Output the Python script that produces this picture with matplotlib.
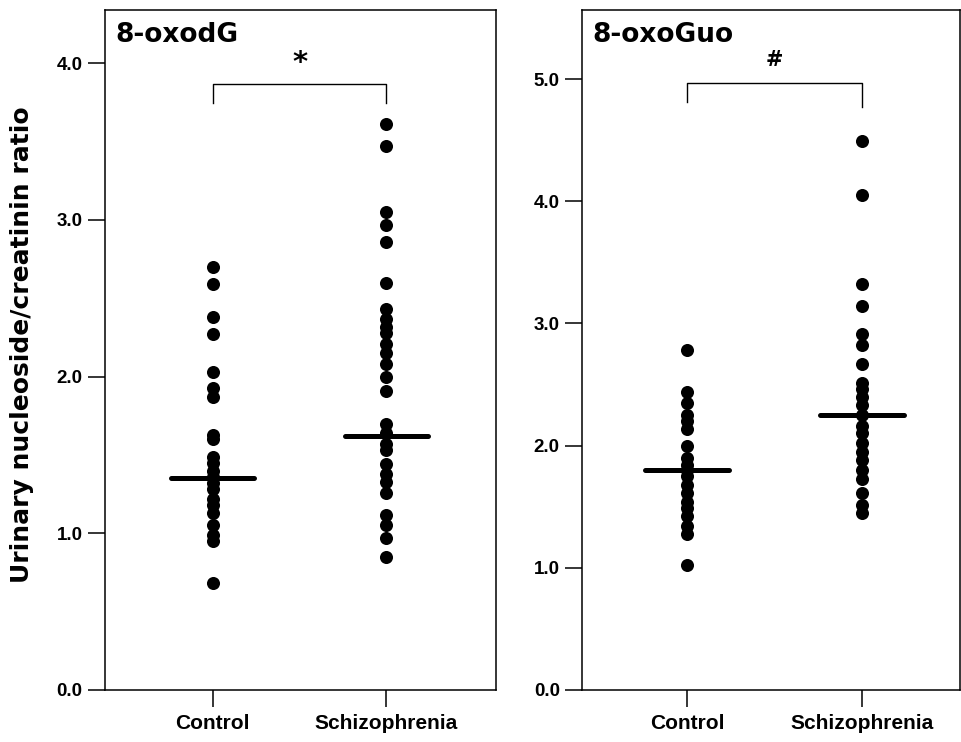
import matplotlib
matplotlib.use("Agg")
import matplotlib.pyplot as plt

# Values (nucleoside/creatinin ratio per subject)
groups = ["Control", "Schizophrenia"]

oxodg_control = [2.70, 2.59, 2.38, 2.27, 2.03, 1.93, 1.87, 1.63, 1.60, 1.49,
                 1.45, 1.40, 1.36, 1.32, 1.28, 1.22, 1.18, 1.13, 1.05, 0.99,
                 0.95, 0.68]
oxodg_schizo = [3.61, 3.47, 3.05, 2.97, 2.86, 2.60, 2.43, 2.37, 2.32, 2.28,
                2.21, 2.15, 2.08, 2.00, 1.91, 1.70, 1.64, 1.57, 1.53, 1.44,
                1.38, 1.33, 1.26, 1.12, 1.05, 0.97, 0.85]
oxodg_medians = [1.35, 1.62]

oxoguo_control = [2.78, 2.44, 2.35, 2.25, 2.20, 2.14, 2.00, 1.90, 1.84, 1.80,
                  1.75, 1.68, 1.61, 1.54, 1.49, 1.42, 1.34, 1.28, 1.02]
oxoguo_schizo = [4.49, 4.05, 3.32, 3.14, 2.91, 2.82, 2.67, 2.51, 2.46, 2.40,
                 2.33, 2.25, 2.16, 2.10, 2.02, 1.95, 1.88, 1.80, 1.73, 1.61,
                 1.51, 1.45]
oxoguo_medians = [1.80, 2.25]

panel_titles = ["8-oxodG", "8-oxoGuo"]
panel_marks = ["*", "#"]
panel_ylims = [4.34, 5.565]
panel_yticks = [[0.0, 1.0, 2.0, 3.0, 4.0], [0.0, 1.0, 2.0, 3.0, 4.0, 5.0]]
panel_xlims = [(0.38, 2.63), (0.40, 2.56)]
# bracket: top, left leg end, right leg end, mark height
panel_brackets = [(3.866, 3.745, 3.745, 4.00), (4.967, 4.81, 4.77, 5.16)]

TICK_FONT = ["Liberation Sans", "DejaVu Sans"]

fig = plt.figure(figsize=(9.62, 7.42), dpi=100)
axes = [fig.add_axes([0.1091, 0.0701, 0.4064, 0.9164]),
        fig.add_axes([0.6050, 0.0701, 0.3930, 0.9164])]

data = [(oxodg_control, oxodg_schizo, oxodg_medians),
        (oxoguo_control, oxoguo_schizo, oxoguo_medians)]

for i, ax in enumerate(axes):
    ctrl, schz, meds = data[i]
    ax.plot([1] * len(ctrl), ctrl, "o", color="black", markersize=9.4,
            markeredgewidth=0)
    ax.plot([2] * len(schz), schz, "o", color="black", markersize=9.4,
            markeredgewidth=0)
    for x, m in zip([1, 2], meds):
        ax.plot([x - 0.24, x + 0.24], [m, m], color="black", lw=3.6,
                solid_capstyle="round")

    top, l_end, r_end, mark_y = panel_brackets[i]
    ax.plot([1, 1, 2, 2], [l_end, top, top, r_end], color="black", lw=1.0)
    ax.text(1.5, mark_y, panel_marks[i], ha="center", va="center",
            fontsize=21 if i == 0 else 15, fontweight="bold")

    ax.text(0.027, 0.963, panel_titles[i], transform=ax.transAxes,
            ha="left", va="center", fontsize=19, fontweight="bold")

    ax.set_xlim(*panel_xlims[i])
    ax.set_ylim(0, panel_ylims[i])
    ax.set_xticks([1, 2])
    ax.set_xticklabels(groups, family=TICK_FONT, fontsize=15,
                       fontweight="bold")
    ax.set_yticks(panel_yticks[i])
    ax.set_yticklabels([f"{v:.1f}" for v in panel_yticks[i]],
                       family=TICK_FONT, fontsize=13.5, fontweight="bold")
    ax.tick_params(axis="both", direction="out", length=12, width=1.1,
                   pad=4)
    ax.tick_params(axis="x", pad=5)
    for sp in ax.spines.values():
        sp.set_linewidth(1.1)

fig.text(0.023, 0.535, "Urinary nucleoside/creatinin ratio", rotation=90,
         ha="center", va="center", fontsize=18, fontweight="bold")

fig.savefig("out.png", dpi=100)
